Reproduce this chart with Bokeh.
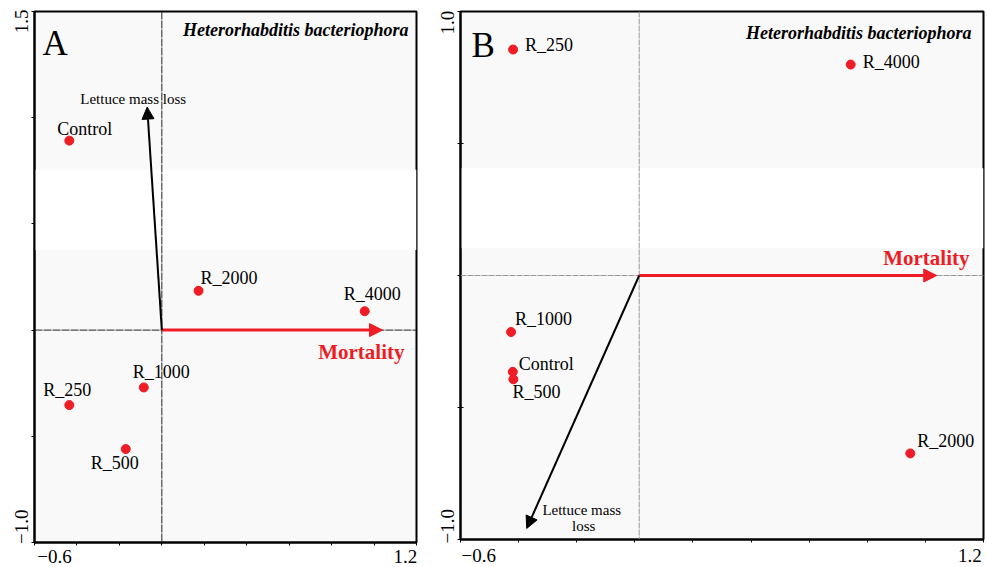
import math
from bokeh.plotting import figure
from bokeh.models import (ColumnDataSource, Label, Arrow, NormalHead, Span,
                          FixedTicker, BoxAnnotation)
from bokeh.layouts import row
from bokeh.embed import file_html
from bokeh.resources import INLINE
from bokeh.core.properties import value

# ---------------- data ----------------
samples = ["Control", "R_250", "R_500", "R_1000", "R_2000", "R_4000"]

# Panel A sample scores
a_x = [-0.436, -0.436, -0.170, -0.085, 0.173, 0.956]
a_y = [0.892, -0.353, -0.560, -0.270, 0.185, 0.089]

# Panel B sample scores
b_x = [-0.420, -0.419, -0.418, -0.426, 0.948, 0.743]
b_y = [-0.365, 0.856, -0.393, -0.214, -0.674, 0.799]

# environmental arrows (Mortality, Lettuce mass loss)
env_names = ["Mortality", "Lettuce mass loss"]
a_env_x = [1.040, -0.069]
a_env_y = [0.0, 1.050]
a_origin = (0.0, 0.0)
b_env_x = [1.039, -0.372]
b_env_y = [0.0, -0.958]
b_origin = (0.015, 0.0)

# tick marks
x_ticks = [-0.6, -0.4, -0.2, 0.0, 0.2, 0.4, 0.6, 0.8, 1.0, 1.2]
a_y_ticks = [-1.0, -0.5, 0.0, 0.5, 1.0, 1.5]
b_y_ticks = [-1.0, -0.5, 0.0, 0.5, 1.0]

# tick labels (only the axis ends are labelled, drawn just inside the ends)
x_tick_text = ["\u22120.6", "1.2"]
a_x_label_at = [-0.506, 1.148]
b_x_label_at = [-0.537, 1.153]
a_y_tick_text = ["\u22121.0", "1.5"]
a_y_label_at = [-0.926, 1.453]
b_y_tick_text = ["\u22121.0", "1.0"]
b_y_label_at = [-0.950, 0.958]

species = "Heterorhabditis bacteriophora"

# label placement (pixels): offset of left edge / vertical centre from the point
a_dx = [-12, -26, -35, -11, 2, -21]
a_dy = [-12, -15, 14, -15, -13, -17]
b_dx = [6, 12, -1, 4, 7, 12]
b_dy = [-8, -5, 13, -13, -12, -3]

SERIF = "Liberation Serif"
RED = "#ee1c24"


def base_fig(frame_w, frame_h, left, right, top, bottom, ymin, ymax, yticks,
             ytick_in, xlab_at, ylab_at, ylab_text, x_standoff):
    p = figure(x_range=(-0.6, 1.2), y_range=(ymin, ymax),
               frame_width=frame_w, frame_height=frame_h,
               min_border_left=left, min_border_right=right,
               min_border_top=top, min_border_bottom=bottom,
               output_backend="svg", toolbar_location=None,
               background_fill_color="#f9f9f9", border_fill_color="white",
               outline_line_color="black", outline_line_width=2)
    p.grid.visible = False
    p.xaxis.ticker = FixedTicker(ticks=xlab_at, minor_ticks=x_ticks)
    p.yaxis.ticker = FixedTicker(ticks=ylab_at, minor_ticks=yticks)
    p.xaxis.major_label_overrides = dict(zip(xlab_at, x_tick_text))
    p.yaxis.major_label_overrides = dict(zip(ylab_at, ylab_text))
    for ax in (p.xaxis[0], p.yaxis[0]):
        ax.axis_line_color = "black"
        ax.axis_line_width = 2
        ax.major_tick_line_color = None
        ax.major_tick_out = 0
        ax.major_tick_in = 0
        ax.minor_tick_line_color = "black"
        ax.minor_tick_line_width = 1
        ax.minor_tick_out = 3
        ax.minor_tick_in = 0
        ax.major_label_text_font = SERIF
        ax.major_label_text_font_size = "19px"
        ax.major_label_text_color = "black"
    p.yaxis.minor_tick_in = ytick_in
    p.yaxis.major_label_orientation = "vertical"
    p.yaxis.major_label_standoff = 3
    p.xaxis.major_label_standoff = x_standoff
    return p


def add_points(p, xs, ys, dx, dy):
    src = ColumnDataSource(dict(x=xs, y=ys, name=samples, dx=dx, dy=dy))
    p.scatter("x", "y", source=src, size=9, fill_color=RED, line_color=RED)
    p.text("x", "y", text="name", source=src, x_offset="dx", y_offset="dy",
           text_font=value(SERIF), text_font_size="18px", text_color="black",
           text_align="left", text_baseline="middle")


# ---------------- Panel A ----------------
pa = base_fig(382, 531, 34, 22, 11, 25, -1.0, 1.5, a_y_ticks, 0,
              a_x_label_at, a_y_label_at, a_y_tick_text, 4)
pa.add_layout(BoxAnnotation(bottom=0.377, top=0.755, fill_color="white",
                            fill_alpha=1.0, line_color=None, level="underlay"))
pa.add_layout(Span(location=a_origin[0], dimension="height", line_color="#222222",
                   line_width=1, line_dash="8 1"))
pa.add_layout(Span(location=a_origin[1], dimension="width", line_color="#222222",
                   line_width=1, line_dash="8 1"))
pa.add_layout(Arrow(x_start=a_origin[0], y_start=a_origin[1], x_end=a_env_x[0],
                    y_end=a_env_y[0], line_color=RED, line_width=3,
                    end=NormalHead(size=13, fill_color=RED, line_color=RED)))
pa.add_layout(Arrow(x_start=a_origin[0], y_start=a_origin[1], x_end=a_env_x[1],
                    y_end=a_env_y[1], line_color="black", line_width=2,
                    end=NormalHead(size=12, fill_color="black", line_color="black")))
add_points(pa, a_x, a_y, a_dx, a_dy)
pa.add_layout(Label(x=1.2, y=0.0, text=env_names[0], text_align="right",
                    text_baseline="middle", x_offset=-12, y_offset=-22,
                    text_font=SERIF, text_font_size="21px",
                    text_font_style="bold", text_color=RED))
pa.add_layout(Label(x=a_env_x[1], y=a_env_y[1], text=env_names[1],
                    text_align="center", text_baseline="middle",
                    x_offset=-14, y_offset=8, text_font=SERIF,
                    text_font_size="15px", text_color="black"))
pa.add_layout(Label(x=1.2, y=1.5, text=species, text_align="right",
                    text_baseline="middle", x_offset=-8, y_offset=-18,
                    text_font=SERIF, text_font_size="18px",
                    text_font_style="bold italic", text_color="black"))
pa.add_layout(Label(x=-0.6, y=1.5, text="A", text_align="left",
                    text_baseline="alphabetic", x_offset=8, y_offset=-32,
                    text_font=SERIF, text_font_size="35px", text_color="black"))

# ---------------- Panel B ----------------
pb = base_fig(523, 528, 21, 5, 11, 28, -1.0, 1.0, b_y_ticks, 3,
              b_x_label_at, b_y_label_at, b_y_tick_text, 6)
pb.add_layout(BoxAnnotation(bottom=0.103, top=0.406, fill_color="white",
                            fill_alpha=1.0, line_color=None, level="underlay"))
pb.add_layout(Span(location=b_origin[0], dimension="height", line_color="#999999",
                   line_width=1, line_dash="6 1"))
pb.add_layout(Span(location=b_origin[1], dimension="width", line_color="#999999",
                   line_width=1, line_dash="6 1"))
pb.add_layout(Arrow(x_start=b_origin[0], y_start=b_origin[1], x_end=b_env_x[0],
                    y_end=b_env_y[0], line_color=RED, line_width=3,
                    end=NormalHead(size=13, fill_color=RED, line_color=RED)))
pb.add_layout(Arrow(x_start=b_origin[0], y_start=b_origin[1], x_end=b_env_x[1],
                    y_end=b_env_y[1], line_color="black", line_width=2,
                    end=NormalHead(size=12, fill_color="black", line_color="black")))
add_points(pb, b_x, b_y, b_dx, b_dy)
pb.add_layout(Label(x=1.2, y=0.0, text=env_names[0], text_align="right",
                    text_baseline="middle", x_offset=-14, y_offset=18,
                    text_font=SERIF, text_font_size="21px",
                    text_font_style="bold", text_color=RED))
pb.add_layout(Label(x=b_env_x[1], y=b_env_y[1], text="Lettuce mass",
                    text_align="center", text_baseline="middle",
                    x_offset=55, y_offset=18, text_font=SERIF,
                    text_font_size="15px", text_color="black"))
pb.add_layout(Label(x=b_env_x[1], y=b_env_y[1], text="loss",
                    text_align="center", text_baseline="middle",
                    x_offset=57, y_offset=2, text_font=SERIF,
                    text_font_size="15px", text_color="black"))
pb.add_layout(Label(x=1.2, y=1.0, text=species, text_align="right",
                    text_baseline="middle", x_offset=-12, y_offset=-21,
                    text_font=SERIF, text_font_size="18px",
                    text_font_style="bold italic", text_color="black"))
pb.add_layout(Label(x=-0.6, y=1.0, text="B", text_align="left",
                    text_baseline="alphabetic", x_offset=11, y_offset=-34,
                    text_font=SERIF, text_font_size="35px", text_color="black"))

layout = row(pa, pb)
open("out.html", "w").write(file_html(layout, INLINE))
